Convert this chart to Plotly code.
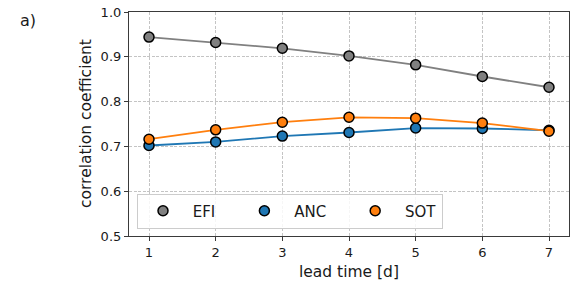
import plotly.graph_objects as go

lead_time = [1, 2, 3, 4, 5, 6, 7]
efi = [0.944, 0.932, 0.919, 0.902, 0.882, 0.856, 0.832]
anc = [0.702, 0.710, 0.723, 0.731, 0.741, 0.740, 0.736]
sot = [0.716, 0.737, 0.754, 0.765, 0.763, 0.752, 0.734]

series = [("EFI", efi, "#808080"), ("ANC", anc, "#1f77b4"), ("SOT", sot, "#ff7f0e")]

FONT = "DejaVu Sans"
TXT = "#1a1a1a"
NB = "\u00a0"
fig = go.Figure()
for name, vals, col in series:
    fig.add_trace(go.Scatter(
        x=lead_time, y=vals, mode="lines+markers", name=name, showlegend=False,
        line=dict(color=col, width=1.8),
        marker=dict(color=col, size=10, line=dict(color="black", width=1.5)),
    ))
for i, (name, vals, col) in enumerate(series):
    trail = NB * (4 if i < len(series) - 1 else 0)
    fig.add_trace(go.Scatter(
        x=[None], y=[None], mode="markers", name=NB + name + trail, showlegend=True,
        marker=dict(color=col, size=10, line=dict(color="black", width=1.5)),
    ))

axis_common = dict(
    showline=True, linecolor="#3a3a3a", linewidth=1.2, mirror=True,
    showgrid=True, gridcolor="#c4c4c4", griddash="3px,1.5px", gridwidth=1,
    ticks="outside", ticklen=4, tickcolor="#3a3a3a", zeroline=False,
    automargin=False,
    tickfont=dict(family=FONT, size=13, color=TXT),
)
fig.update_xaxes(range=[0.7, 7.3], tickvals=lead_time, **axis_common)
fig.update_yaxes(range=[0.5, 1.0], dtick=0.1, tickformat=".1f", **axis_common)

FW, FH = 586, 298
L, R, T, B = 129, 569, 12, 236
W, H = R - L, B - T

def px(x):
    return (x - L) / W

def py(y):
    return (B - y) / H

fig.update_layout(
    width=FW, height=FH,
    margin=dict(l=L, r=FW - R, t=T, b=FH - B, autoexpand=False),
    plot_bgcolor="white", paper_bgcolor="white",
    font=dict(family=FONT, color=TXT),
    showlegend=True,
    legend=dict(orientation="h", x=px(137), y=py(228.5), xanchor="left", yanchor="bottom",
                itemwidth=40,
                bgcolor="rgba(255,255,255,0.85)", bordercolor="#cccccc", borderwidth=1,
                font=dict(family=FONT, size=15, color=TXT)),
    annotations=[
        dict(text="a)", x=px(28), y=py(21), xref="paper", yref="paper", showarrow=False,
             xanchor="center", yanchor="middle", font=dict(family=FONT, size=16, color=TXT)),
        dict(text="lead time [d]", x=px(349), y=py(272), xref="paper", yref="paper", showarrow=False,
             xanchor="center", yanchor="middle", font=dict(family=FONT, size=15.5, color=TXT)),
        dict(text="correlation coefficient", x=px(86), y=py(124), xref="paper", yref="paper", showarrow=False,
             textangle=-90, xanchor="center", yanchor="middle", font=dict(family=FONT, size=15.5, color=TXT)),
    ],
)
fig.write_html("out.html", config={"displayModeBar": False},
               post_script="document.body.style.margin='0';")
